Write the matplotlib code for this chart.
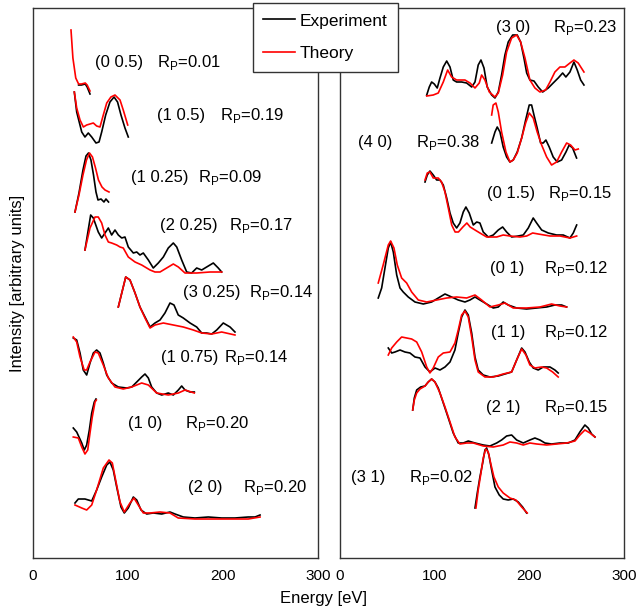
import matplotlib
matplotlib.use("Agg")
import matplotlib.pyplot as plt
from matplotlib.lines import Line2D

plt.rcParams['font.family'] = ['Liberation Sans', 'DejaVu Sans']
plt.rcParams['mathtext.fontset'] = 'custom'
plt.rcParams['mathtext.rm'] = 'Liberation Sans'

# ---- left panel beams (energy in eV, intensity in arbitrary units incl. offset) ----
e_005_exp = [48, 51, 55, 57, 60]
i_005_exp = [473, 473, 474, 471, 464]
e_005_th = [40, 42, 45, 48, 51, 55, 57, 60]
i_005_th = [528, 500, 480, 474, 474, 475, 473, 467]

e_105_exp = [43.5, 46, 51.3, 54.7, 58.2, 61.8, 66.3, 69.5, 72.3, 76.5, 81, 85.3, 89, 92.6, 96.8, 100.3]
i_105_exp = [466, 446, 426, 421, 425, 421, 415, 416, 426, 443, 456, 461, 456, 443, 430, 421]
e_105_th = [43.5, 46, 49.5, 53, 56.5, 60, 63.5, 67, 70.5, 74, 77.6, 82, 86.3, 91.6, 95, 99.7]
i_105_th = [466, 450, 438, 431, 433, 434, 435, 432, 431, 443, 455, 461, 463, 458, 448, 433]

e_1025_exp = [44.2, 48.4, 52.6, 55.8, 58.4, 61, 63.7, 66.3, 68.4, 71.6, 74.7, 76.8, 79.5]
i_1025_exp = [346, 365, 388, 402, 405, 398, 383, 366, 358, 359, 356, 359, 356]
e_1025_th = [44.2, 48.4, 52.6, 56.3, 59.5, 62.6, 65.8, 68.9, 72.6, 75.8, 80]
i_1025_th = [346, 363, 383, 398, 405, 401, 390, 378, 371, 368, 366]

e_2025_exp = [54.7, 60.7, 63.5, 68.7, 72.3, 75.8, 79.3, 82.8, 86.3, 89.8, 93.4, 96.8, 100.3, 105.6,
              109.2, 112.6, 116.1, 121.4, 126.6, 131.9, 137.2, 142.4, 147.7, 151.3, 156.5, 161.8,
              167, 172.3, 177.6, 182.8, 186.3, 189.8, 195, 198.6]
i_2025_exp = [308, 343, 340, 326, 320, 325, 330, 323, 328, 323, 320, 321, 311, 305, 306, 303, 305,
              298, 290, 295, 301, 310, 315, 311, 298, 286, 285, 290, 288, 291, 293, 295, 290, 286]
e_2025_th = [54.7, 60, 65.3, 68.7, 72.3, 75.8, 79.3, 82.8, 88.1, 91.6, 95, 100.3, 107.4, 114.4,
             123.2, 128.4, 133.7, 140.7, 147.7, 153, 160, 172.3, 186.3, 198.6]
i_2025_th = [308, 330, 341, 341, 335, 323, 316, 315, 313, 311, 310, 301, 296, 293, 288, 286, 286,
             290, 294, 291, 285, 285, 286, 286]

e_3025_exp = [89.8, 97.6, 102.1, 107.4, 112.6, 117.9, 123.2, 128.4, 133.7, 138.9, 144.2, 148.4,
              152.9, 158.2, 165.3, 172.3, 177.6, 182.8, 188.1, 193.4, 200.3, 207.4, 212.6]
i_3025_exp = [251, 281, 278, 265, 251, 241, 231, 235, 238, 245, 255, 253, 243, 240, 235, 231, 225,
              225, 224, 228, 235, 231, 226]
e_3025_th = [89.8, 97.6, 102.1, 107.4, 112.6, 117.9, 123.2, 128.4, 137.2, 147.7, 158.2, 168.7,
             177.6, 188.1, 198.6, 212.6]
i_3025_th = [251, 281, 278, 265, 251, 240, 230, 233, 235, 233, 231, 228, 225, 224, 226, 223]

e_1075_exp = [42.4, 46, 49.5, 52.9, 56.5, 60, 63.5, 67, 70.5, 74, 77.6, 82.8, 89.8, 98.6, 103.9,
              109.2, 114.4, 117.9, 121.4, 124.9, 130.2, 135.5, 142.4, 147.7, 153, 156.5, 160, 165.3, 169.8]
i_1075_exp = [220, 218, 205, 188, 183, 195, 205, 208, 205, 195, 183, 175, 171, 170, 171, 176, 181,
              184, 180, 171, 165, 163, 165, 163, 168, 172, 168, 166, 166]
e_1075_th = [42.4, 46, 49.5, 53.9, 56.5, 60, 65.3, 68.7, 74, 79.3, 86.3, 95, 103.9, 114.4, 121.4,
             130.2, 142.4, 153, 160, 169.8]
i_1075_th = [221, 216, 201, 188, 188, 196, 206, 205, 193, 180, 171, 169, 171, 175, 173, 165, 163,
             165, 168, 165]

e_10_exp = [42.4, 46, 51.3, 54, 56.5, 59.3, 61.8, 64.5, 66.3]
i_10_exp = [130, 126, 115, 108, 113, 128, 145, 156, 159]
e_10_th = [42.4, 47.7, 51.3, 54.7, 57.6, 60, 62.4, 65.3, 66.7]
i_10_th = [121, 120, 111, 104, 108, 125, 141, 156, 158]

e_20_exp = [44.2, 47.7, 54.7, 61.8, 67, 72.3, 77.6, 81, 84.5, 88.1, 92.6, 96.1, 100.3, 105.6, 109.2,
            113.7, 119.7, 126.6, 135.5, 144.2, 149.5, 158.2, 170.5, 184.5, 198.6, 212.6, 226.6, 233.7, 239]
i_20_exp = [55, 59, 59, 57, 68, 81, 93, 96, 88, 71, 51, 45, 50, 61, 58, 48, 44, 45, 44, 46, 44, 41,
            40, 41, 40, 40, 41, 41, 43]
e_20_th = [44.2, 51.3, 56.5, 61.8, 67, 74, 80, 83.5, 87, 91.6, 96.1, 102.1, 106.3, 110.8, 116.1,
           123.2, 133.7, 144.2, 152.9, 170.5, 198.6, 226.6, 239]
i_20_th = [53, 50, 48, 53, 68, 90, 98, 95, 78, 56, 46, 55, 60, 53, 45, 45, 46, 45, 40, 39, 39, 39, 41]

# ---- right panel beams ----
e_30_exp = [91.6, 94.3, 96.8, 99.6, 102.7, 105.6, 109.1, 112.7, 116.2, 119.6, 123.2, 128.5, 133.8,
            139.1, 142.6, 146, 148.9, 152.1, 155.5, 160.2, 163.7, 167.2, 170.7, 174.2, 177.7, 182.4,
            187.2, 190.8, 194.3, 197.2, 200.6, 204.9, 209.4, 214.1, 220, 225.2, 230.5, 235.2, 238.6,
            242.9, 247.1, 250.6, 254.2, 257.7]
i_30_exp = [463, 471, 476, 474, 470, 480, 491, 497, 491, 478, 476, 476, 475, 471, 476, 493, 498, 490,
            471, 463, 460, 466, 483, 503, 516, 523, 523, 516, 500, 485, 478, 477, 471, 466, 470, 475,
            480, 485, 481, 486, 496, 488, 478, 473]
e_30_th = [91.6, 98.5, 103.8, 109.1, 113.7, 117.9, 123.2, 132, 137.3, 142.6, 147.1, 149.6, 153.1,
           157.7, 163.7, 167.2, 171.8, 176, 181.3, 186.6, 190.8, 195.4, 200.6, 205.9, 211.2, 217.2,
           221.8, 227, 232.3, 237.6, 242.9, 247.1, 251.6, 257.7]
i_30_th = [462, 463, 465, 476, 488, 481, 478, 478, 475, 470, 475, 483, 478, 466, 461, 465, 483, 506,
           520, 523, 516, 500, 478, 470, 466, 468, 476, 486, 491, 491, 495, 498, 495, 486]

e_40_exp = [160.2, 163.7, 166.1, 169, 172.4, 176, 179.5, 183, 187.2, 191.9, 196.1, 199.9, 202.4,
            204.9, 208.3, 211.9, 214.7, 217.5, 221, 225.2, 229.5, 234.1, 238.7, 242.1, 245.7, 249.9]
i_40_exp = [415, 426, 431, 426, 411, 401, 396, 398, 406, 420, 438, 453, 453, 443, 430, 415, 415, 418,
            411, 401, 396, 398, 406, 413, 410, 400]
e_40_th = [160.2, 161.8, 164.7, 167.2, 170.7, 175.3, 179.5, 183, 187.2, 191.9, 196.1, 199.9, 204.1,
           208.3, 213, 218.3, 223.5, 228.8, 234.1, 239.4, 243.6, 248.2, 251.7]
i_40_th = [443, 453, 455, 446, 426, 406, 396, 398, 405, 420, 435, 445, 440, 426, 413, 401, 393, 396,
           406, 415, 413, 408, 409]

e_015_exp = [89.8, 92.2, 95, 98.5, 102.1, 105.6, 109.1, 112.7, 116.2, 119.6, 123.2, 126.7, 130.2,
             133, 136.5, 140.8, 144.4, 147.8, 151.3, 156.6, 161.9, 167.2, 171.8, 176, 181.3, 188.3,
             193.6, 198.9, 204.1, 207.7, 213, 220, 228.8, 235.8, 242.9, 246.4, 250]
i_015_exp = [376, 383, 387, 383, 378, 378, 373, 360, 345, 335, 330, 335, 346, 351, 345, 333, 336,
             335, 326, 321, 323, 328, 331, 326, 321, 322, 323, 330, 340, 335, 328, 325, 323, 323,
             320, 325, 333]
e_015_th = [89.8, 92.2, 95, 98.5, 103.8, 107.3, 110.9, 114.4, 118, 121.6, 125.1, 129.8, 134, 137.5,
            142.6, 147.8, 154.9, 165.5, 172.4, 179.5, 190.1, 197.2, 203.5, 209.4, 221.8, 232.3, 242.9, 250]
i_015_th = [378, 385, 386, 380, 380, 376, 366, 350, 333, 326, 326, 331, 335, 331, 328, 325, 321, 321,
            323, 322, 321, 322, 325, 324, 322, 322, 320, 322]

e_01_exp = [40.4, 44, 47.5, 51, 53.5, 56.3, 59.9, 63.4, 66.8, 72.1, 79.2, 88, 96.8, 103.8, 110.9,
            117.9, 124.9, 132, 137.3, 142.6, 147.8, 154.9, 161.9, 167.2, 172.4, 177.7, 186.6, 197.1,
            207.7, 218.3, 227, 234.1, 239.4]
i_01_exp = [260, 270, 290, 310, 316, 306, 283, 270, 266, 261, 256, 254, 256, 260, 264, 261, 258, 256,
            258, 261, 258, 254, 250, 251, 256, 253, 250, 249, 250, 251, 253, 253, 251]
e_01_th = [40.4, 45.6, 51, 53.5, 57, 60.5, 65.1, 70.4, 75.7, 82.7, 91.6, 102.1, 112.7, 123.2, 133.8,
           142.6, 149.6, 158.4, 167.2, 174.2, 183, 197.1, 211.2, 223.5, 232.3, 239.4]
i_01_th = [275, 293, 313, 317, 310, 293, 280, 275, 266, 258, 256, 258, 260, 261, 260, 263, 258, 251,
           253, 255, 250, 250, 251, 254, 252, 251]

e_11_exp = [51, 54.6, 58.1, 63.4, 68.6, 73.9, 79.2, 84.5, 89.8, 95, 100.3, 105.6, 110.9, 116.2,
            121.4, 124.9, 128.5, 132, 135.5, 139.1, 142.6, 146, 151.3, 158.4, 167.2, 174.2, 181.3,
            186.6, 191.9, 195.4, 199.9, 204.1, 209.4, 214.7, 221.8, 227, 230.5]
i_11_exp = [210, 205, 206, 208, 206, 205, 201, 200, 191, 186, 190, 188, 191, 196, 208, 225, 241, 248,
            243, 225, 201, 188, 183, 181, 182, 184, 186, 198, 210, 206, 196, 190, 188, 191, 191, 188, 185]
e_11_th = [51, 54.6, 59.9, 65.1, 70.4, 75.7, 81, 86.3, 91.6, 95, 98.5, 103.8, 109.1, 116.2, 121.4,
           124.9, 128.5, 132, 135.5, 139.1, 142.6, 146, 153.1, 161.9, 172.4, 181.3, 186.6, 191.9,
           196.4, 200.6, 205.9, 212.9, 218.3, 224.6, 230.5]
i_11_th = [203, 210, 216, 221, 220, 219, 216, 206, 191, 185, 190, 201, 205, 206, 215, 228, 243, 247,
           241, 221, 198, 186, 181, 181, 184, 186, 198, 209, 203, 193, 190, 191, 190, 186, 181]

e_21_exp = [76.8, 78.5, 81, 85.2, 89.8, 93.2, 96.8, 100.3, 103.8, 109.1, 114.4, 119.6, 124.9, 130.2,
            135.5, 142.6, 151.3, 158.4, 165.5, 170.7, 176, 181.3, 186.6, 193.6, 200.6, 205.9, 211.2,
            216.5, 223.5, 232.3, 241.1, 248.2, 253.4, 258.7, 262.2, 265.8, 269.3]
i_21_exp = [148, 160, 168, 171, 172, 176, 179, 176, 170, 155, 140, 125, 115, 115, 117, 115, 113, 112,
            115, 118, 122, 123, 118, 115, 118, 120, 118, 115, 114, 115, 115, 118, 126, 133, 130, 124, 121]
e_21_th = [76.8, 78.5, 81, 84.5, 89.8, 93.2, 96.8, 100.3, 105.6, 110.9, 116.2, 121.4, 126.7, 133.8,
           140.8, 151.3, 161.9, 172.4, 179.5, 186.6, 193.6, 200.6, 207.7, 218.3, 228.8, 239.4, 248.2,
           253.4, 258.7, 264, 269.3]
i_21_th = [148, 158, 165, 169, 172, 176, 179, 176, 165, 151, 136, 121, 114, 115, 115, 112, 111, 113,
           116, 115, 113, 115, 114, 113, 114, 115, 117, 123, 128, 125, 121]

e_31_exp = [142.6, 145, 147.8, 150.7, 153.1, 154.9, 157.3, 160.2, 163.7, 168.2, 172.4, 177.7, 183,
            188.3, 192.9, 197.1]
i_31_exp = [50, 65, 81, 95, 108, 110, 103, 88, 71, 63, 59, 58, 59, 56, 51, 45]
e_31_th = [143.6, 146, 148.9, 151.3, 153.9, 156.6, 159.1, 162.6, 167.2, 172.4, 179.5, 185.8, 191.9, 197.8]
i_31_th = [50, 68, 85, 100, 109, 106, 95, 81, 71, 65, 60, 58, 51, 45]

# labels: (beam text, x of beam text, x of R_P text, baseline y, R_P value)
left_labels = [("(0 0.5)", 65, 131, 491, "0.01"),
               ("(1 0.5)", 131, 197, 438, "0.19"),
               ("(1 0.25)", 103, 174, 376, "0.09"),
               ("(2 0.25)", 134, 206, 328, "0.17"),
               ("(3 0.25)", 158, 227, 261, "0.14"),
               ("(1 0.75)", 135, 201, 196, "0.14"),
               ("(1 0)", 100, 160, 130, "0.20"),
               ("(2 0)", 163, 221, 66, "0.20")]
right_labels = [("(3 0)", 165, 225, 526, "0.23"),
                ("(4 0)", 19, 80, 411, "0.38"),
                ("(0 1.5)", 155, 220, 360, "0.15"),
                ("(0 1)", 158, 215, 285, "0.12"),
                ("(1 1)", 159, 215, 221, "0.12"),
                ("(2 1)", 154, 215, 146, "0.15"),
                ("(3 1)", 12, 73, 76, "0.02")]

left_beams = [(e_005_exp, i_005_exp, e_005_th, i_005_th),
              (e_105_exp, i_105_exp, e_105_th, i_105_th),
              (e_1025_exp, i_1025_exp, e_1025_th, i_1025_th),
              (e_2025_exp, i_2025_exp, e_2025_th, i_2025_th),
              (e_3025_exp, i_3025_exp, e_3025_th, i_3025_th),
              (e_1075_exp, i_1075_exp, e_1075_th, i_1075_th),
              (e_10_exp, i_10_exp, e_10_th, i_10_th),
              (e_20_exp, i_20_exp, e_20_th, i_20_th)]
right_beams = [(e_30_exp, i_30_exp, e_30_th, i_30_th),
               (e_40_exp, i_40_exp, e_40_th, i_40_th),
               (e_015_exp, i_015_exp, e_015_th, i_015_th),
               (e_01_exp, i_01_exp, e_01_th, i_01_th),
               (e_11_exp, i_11_exp, e_11_th, i_11_th),
               (e_21_exp, i_21_exp, e_21_th, i_21_th),
               (e_31_exp, i_31_exp, e_31_th, i_31_th)]

W, H = 641, 610
fig = plt.figure(figsize=(W / 100, H / 100), dpi=100)
ax_l = fig.add_axes([33 / W, 52 / H, 285 / W, 550 / H])
ax_r = fig.add_axes([340 / W, 52 / H, 284 / W, 550 / H])

for ax, beams, labels in [(ax_l, left_beams, left_labels), (ax_r, right_beams, right_labels)]:
    for e_exp, i_exp, e_th, i_th in beams:
        ax.plot(e_exp, i_exp, color='black', lw=1.2)
        ax.plot(e_th, i_th, color='red', lw=1.2)
    for name, x_name, x_rp, y, rp in labels:
        ax.text(x_name, y, name, fontsize=12, va='baseline')
        ax.text(x_rp, y, r'R$_\mathrm{P}$=' + rp, fontsize=12, va='baseline')
    ax.set_xlim(0, 300)
    ax.set_ylim(0, 550)
    ax.set_xticks([0, 100, 200, 300])
    ax.set_yticks([])
    ax.tick_params(axis='x', length=0, labelsize=11, pad=8)
    for s in ax.spines.values():
        s.set_color('#333333')
        s.set_linewidth(1.0)

ax_l.set_ylabel('Intensity [arbitrary units]', fontsize=12, labelpad=6)
fig.text(324 / W, 1 - 598 / H, 'Energy [eV]', fontsize=12, ha='center', va='center')

handles = [Line2D([], [], color='black', lw=1.2), Line2D([], [], color='red', lw=1.2)]
leg = fig.legend(handles, ['Experiment', 'Theory'], loc='upper left',
                 bbox_to_anchor=(253 / W, 1 - 3 / H), borderaxespad=0, fontsize=12.5,
                 fancybox=False, framealpha=1, edgecolor='#333333', handlelength=1.8,
                 handletextpad=0.3, labelspacing=1.0, borderpad=0.6)
leg.get_frame().set_linewidth(1.0)

fig.savefig('out.png', dpi=100)
